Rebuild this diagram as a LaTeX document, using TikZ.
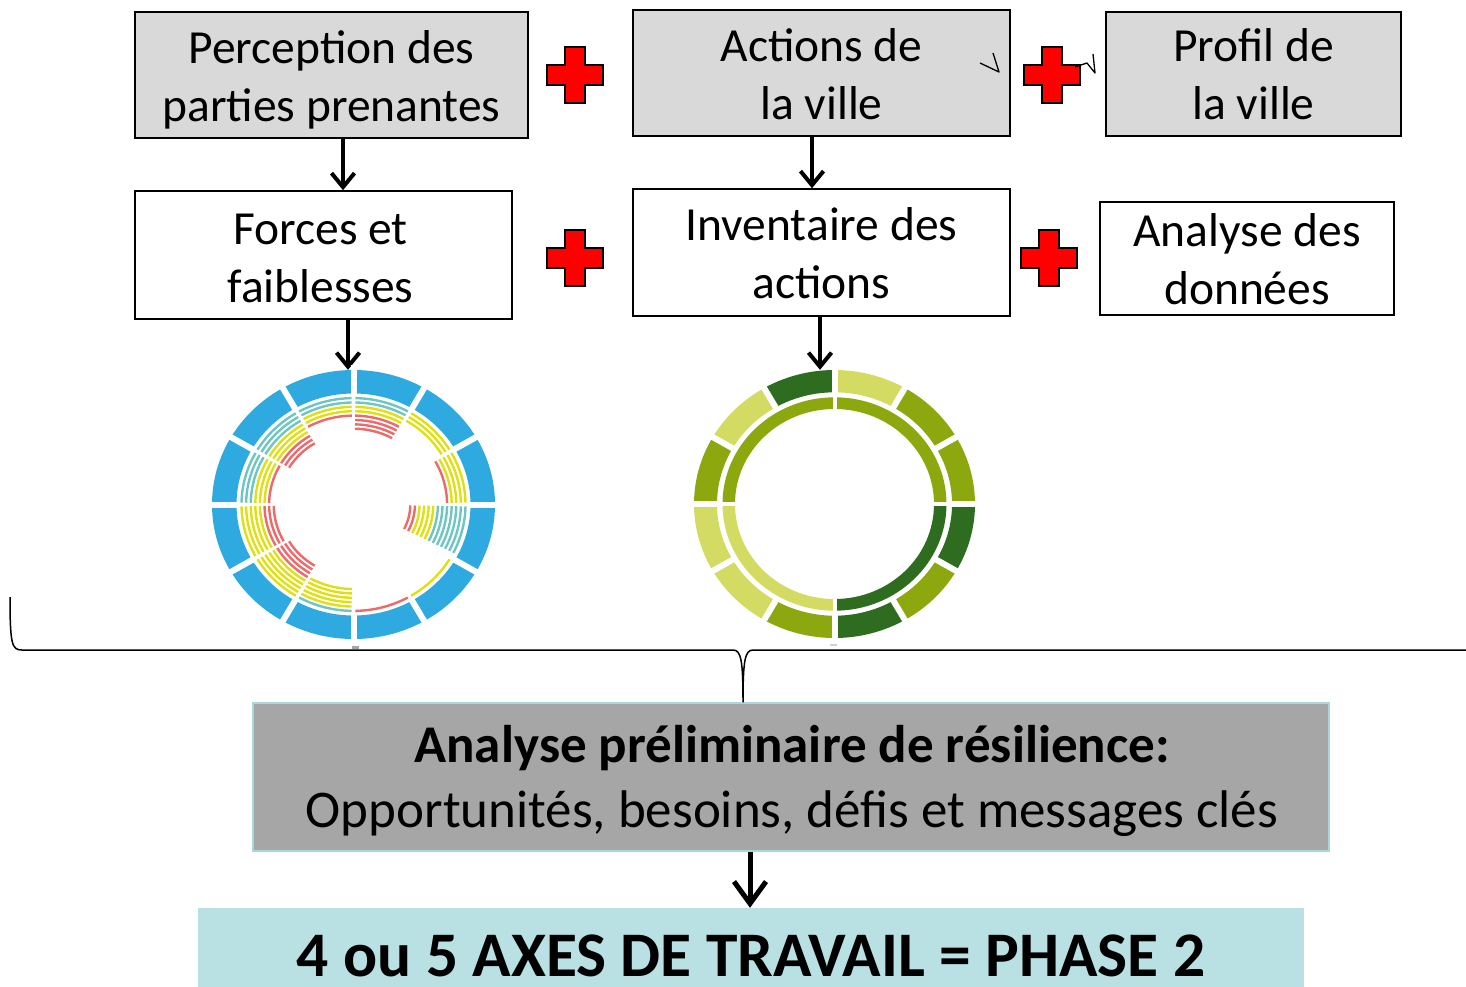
\documentclass[tikz,border=0pt]{standalone}
\usepackage{fontspec}
\setmainfont{Carlito}
\usetikzlibrary{arrows.meta,shapes.geometric}
\definecolor{boxgray}{HTML}{D9D9D9}
\definecolor{midgray}{HTML}{A6A6A6}
\definecolor{tealbox}{HTML}{B9E0E3}
\definecolor{tealedge}{HTML}{A8D8DC}
\definecolor{chartblue}{HTML}{2EAAE1}
\definecolor{lcyan}{HTML}{6EC6C3}
\definecolor{lyellow}{HTML}{E0E010}
\definecolor{lred}{HTML}{EE6A6A}
\definecolor{gdark}{HTML}{2E6D1F}
\definecolor{gmid}{HTML}{8DA80F}
\definecolor{glight}{HTML}{D3DB62}
\begin{document}
\begin{tikzpicture}[x=1pt,y=-1pt,
  box/.style={draw=black, line width=1.5pt, inner sep=0pt},
  txt/.style={inner sep=0pt, align=center, font=\fontsize{47.5}{58}\selectfont},
  arr/.style={line width=4pt, -{Straight Barb[length=14pt,width=23pt]}},
  bigarr/.style={line width=5pt, -{Straight Barb[length=22pt,width=32pt]}},
  crossmark/.pic={\draw[fill=red, line width=1.5pt] (-28,-10)--(-10,-10)--(-10,-28)--(10,-28)--(10,-10)--(28,-10)--(28,10)--(10,10)--(10,28)--(-10,28)--(-10,10)--(-28,10)--cycle;},
  tick/.style={line width=1.3pt, line join=round}
]
\useasboundingbox (0,0) rectangle (1466,986);
\clip (0,0) rectangle (1466,986);

% top row
\node[box, fill=boxgray, minimum width=393, minimum height=126] (B1) at (331.5,75) {};
\node[txt] (B1t) at ([yshift=-5pt]B1.center) {Perception des\\parties prenantes};
\node[box, fill=boxgray, minimum width=377, minimum height=126] (B2) at (821.5,73) {};
\node[txt] (B2t) at ([yshift=-1pt]B2.center) {Actions de\\la ville};
\node[box, fill=boxgray, minimum width=295, minimum height=124] (B3) at (1253.5,74) {};
\node[txt] (B3t) at (B3.center) {Profil de\\la ville};
% second row
\node[box, fill=white, minimum width=377, minimum height=128] (B4) at (323.5,255) {};
\node[txt] (B4t) at ([xshift=-3pt,yshift=-3pt]B4.center) {Forces et\\faiblesses};
\node[box, fill=white, minimum width=377, minimum height=127] (B5) at (821.5,252.5) {};
\node[txt] (B5t) at ([yshift=-1pt]B5.center) {Inventaire des\\actions};
\node[box, fill=white, minimum width=294, minimum height=113] (B6) at (1247,258.5) {};
\node[txt] (B6t) at ([yshift=-1pt]B6.center) {Analyse des\\données};

% plus signs
\pic at (575,75) {crossmark};
\pic at (1052,75) {crossmark};
\pic at (575,258) {crossmark};
\pic at (1049,258) {crossmark};

% small stray marks
\draw[tick] (980,63) -- (999,72) -- (993,53);
\draw[tick] (1075,67) -- (1087,63) -- (1095,73) -- (1093,54);

% chart anchors
\node[ellipse, minimum width=283, minimum height=269, inner sep=0pt] (chartA) at (353.5,504.5) {};
\node[ellipse, minimum width=281, minimum height=268, inner sep=0pt] (chartB) at (834.5,504) {};

% helper x positions
\coordinate (xa) at (343,0);
\coordinate (xb) at (812,0);
\coordinate (xc) at (348,0);
\coordinate (xd) at (820,0);
\coordinate (xe) at (743,0);
\coordinate (xf) at (750,0);

\draw[arr] (B1.south -| xa) -- (B4.north -| xa);
\draw[arr] (B2.south -| xb) -- (B5.north -| xb);
\draw[arr] (B4.south -| xc) -- (chartA.north -| xc);
\draw[arr] (B5.south -| xd) -- (chartB.north -| xd);

% ---- blue chart ----
\fill[chartblue, even odd rule] (chartA.center) ellipse[x radius=141.5pt, y radius=134.5pt]
   (chartA.center) ellipse[x radius=117pt, y radius=111pt];
\foreach \a in {0,30,...,330}{
  \draw[white, line width=6pt] ([shift={(\a:114pt and 108pt)}]chartA.center) -- ([shift={(\a:147pt and 140pt)}]chartA.center);
}
\foreach \aa/\bb/\nc/\ny/\nr in {61/89/2/2/4, 91/119/2/2/1, 121/149/3/3/3, 151/179/3/3/1, 181/209/0/5/3, 211/239/0/5/4, 241/269/1/5/0, 271/299/0/0/1, 301/329/0/1/0, 333/359/7/4/2, 1/29/0/4/1, 31/59/0/3/0}{
  \pgfmathtruncatemacro\ntot{\nc+\ny+\nr-1}
  \pgfmathtruncatemacro\ncy{\nc+\ny}
  \foreach \i in {0,...,\ntot}{
    \pgfmathsetmacro\rx{112-4.6*\i}
    \pgfmathsetmacro\ry{0.95*\rx}
    \ifnum\i<\nc\relax\def\col{lcyan}\else\ifnum\i<\ncy\relax\def\col{lyellow}\else\def\col{lred}\fi\fi
    \draw[color=\col, line width=2.4pt] ([shift={(\aa:\rx pt and \ry pt)}]chartA.center) arc[start angle=\aa, end angle=\bb, x radius=\rx pt, y radius=\ry pt];
  }
}
\fill[gray!70] (352,646) rectangle (359,648.5);

% ---- green chart ----
\foreach \aa/\bb/\cc in {60/90/glight, 30/60/gmid, 0/30/gmid, -30/0/gdark, -60/-30/gmid, -90/-60/gdark, 240/270/gmid, 210/240/glight, 180/210/glight, 150/180/gmid, 120/150/glight, 90/120/gdark}{
  \fill[\cc] ([shift={(\aa:140.5pt and 134pt)}]chartB.center) arc[start angle=\aa, end angle=\bb, x radius=140.5pt, y radius=134pt]
    -- ([shift={(\bb:117.5pt and 111.7pt)}]chartB.center) arc[start angle=\bb, end angle=\aa, x radius=117.5pt, y radius=111.7pt] -- cycle;
}
\foreach \aa/\bb/\cc in {0/90/gmid, 90/180/gmid, 180/270/glight, 270/360/gdark}{
  \fill[\cc] ([shift={(\aa:112pt and 106.7pt)}]chartB.center) arc[start angle=\aa, end angle=\bb, x radius=112pt, y radius=106.7pt]
    -- ([shift={(\bb:99.5pt and 95pt)}]chartB.center) arc[start angle=\bb, end angle=\aa, x radius=99.5pt, y radius=95pt] -- cycle;
}
\foreach \a in {0,30,...,330}{
  \draw[white, line width=6pt] ([shift={(\a:115pt and 109pt)}]chartB.center) -- ([shift={(\a:147pt and 140pt)}]chartB.center);
}
\foreach \a in {0,90,180,270}{
  \draw[white, line width=4pt] ([shift={(\a:96pt and 91pt)}]chartB.center) -- ([shift={(\a:116pt and 110pt)}]chartB.center);
}
\fill[gray!35] (830,644) rectangle (837,645.5);

% ---- summary box ----
\node[draw=tealedge, line width=1.5pt, fill=midgray, minimum width=1076, minimum height=148, inner sep=0pt] (G) at (791,777) {};
\node[anchor=base, inner sep=0pt, font=\fontsize{53}{65}\selectfont\bfseries] (Gt1) at (792,762) {Analyse préliminaire de résilience:};
\node[anchor=base, inner sep=0pt, font=\fontsize{53}{65}\selectfont] (Gt2) at (792,827) {Opportunités, besoins, défis et messages clés};

% brace
\draw[line width=1.5pt] (10,597) .. controls (10,645) and (12,650) .. (22,650) -- (733,650)
  .. controls (741,650) and (743,660) .. (G.north -| xe)
  .. controls (743,660) and (745,650) .. (753,650) -- (1466,650);

% bottom box
\node[fill=tealbox, minimum width=1106, minimum height=100, inner sep=0pt] (T) at (751,958) {};
\node[anchor=base, inner sep=0pt, font=\fontsize{63.5}{70}\selectfont\bfseries] (Tt) at (751,976) {4 ou 5 AXES DE TRAVAIL = PHASE 2};

\draw[bigarr] (G.south -| xf) -- (T.north -| xf);
\end{tikzpicture}
\end{document}
